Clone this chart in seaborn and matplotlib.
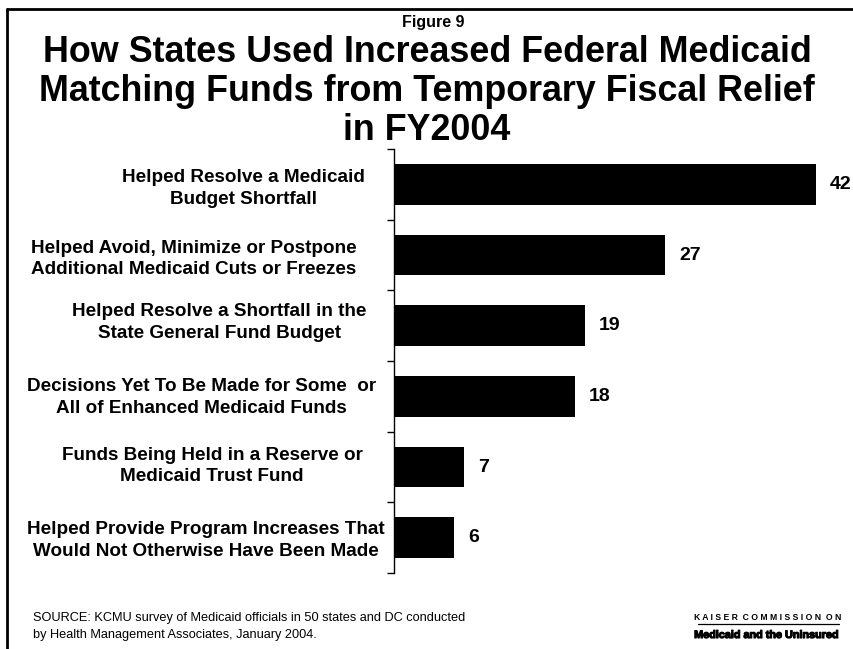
import matplotlib
matplotlib.use("Agg")
import matplotlib.pyplot as plt
from matplotlib.lines import Line2D
import matplotlib.patheffects as pe
import matplotlib.transforms as mtransforms
import seaborn as sns
import pandas as pd
import numpy as np

categories = [
    "Helped Resolve a Medicaid\nBudget Shortfall",
    "Helped Avoid, Minimize or Postpone\nAdditional Medicaid Cuts or Freezes",
    "Helped Resolve a Shortfall in the\nState General Fund Budget",
    "Decisions Yet To Be Made for Some  or\nAll of Enhanced Medicaid Funds",
    "Funds Being Held in a Reserve or\nMedicaid Trust Fund",
    "Helped Provide Program Increases That\nWould Not Otherwise Have Been Made",
]
states = [42, 27, 19, 18, 7, 6]

fig_label = "Figure 9"
title_lines = ["How States Used Increased Federal Medicaid",
               "Matching Funds from Temporary Fiscal Relief",
               "in FY2004"]
source = ("SOURCE: KCMU survey of Medicaid officials in 50 states and DC conducted\n"
          "by Health Management Associates, January 2004.")

# Layout: each category caption is its own centred text block
label_center_px = [243.5, 194, 219.5, 201.5, 212, 205.5]
label_dy_px = [4, 4, -3, 1, -1, 3]

sns.set_theme(style="white")
plt.rcParams["font.family"] = ["Liberation Sans", "DejaVu Sans"]
plt.rcParams["text.color"] = "black"
plt.rcParams["ytick.color"] = "black"

df = pd.DataFrame({"category": categories, "states": states})

W, H = 854, 649
fig = plt.figure(figsize=(W / 100, H / 100), dpi=100)
fig.patch.set_facecolor("white")

ax_top, ax_bot = 149, 573
ax = fig.add_axes([394 / W, 1 - ax_bot / H, (844 - 394) / W, (ax_bot - ax_top) / H])
sns.barplot(data=df, x="states", y="category", orient="h", color="black",
            saturation=1, width=0.58, ax=ax, edgecolor="none")

ax.set_xlim(0, 44.8)
ax.set_ylim(len(categories) - 0.5, -0.5)
ax.set_xlabel("")
ax.set_ylabel("")
ax.set_xticks([])

for s in ["top", "right", "bottom"]:
    ax.spines[s].set_visible(False)
ax.spines["left"].set_color("black")
ax.spines["left"].set_linewidth(1.0)

# Ticks only at the boundaries between categories
ax.set_yticks(np.arange(len(categories)))
ax.set_yticklabels([])
ax.tick_params(axis="y", which="major", length=0)
ax.set_yticks(np.arange(-0.5, len(categories)), minor=True)
ax.tick_params(axis="y", which="minor", left=True, length=5, width=1.0,
               color="black", direction="out")

# Category captions
row_px = (ax_bot - ax_top) / len(categories)
trans = mtransforms.blended_transform_factory(fig.transFigure, ax.transData)
for i, lab in enumerate(categories):
    ax.text(label_center_px[i] / W, i + label_dy_px[i] / row_px, lab,
            transform=trans, ha="center", va="center",
            multialignment="center", fontsize=13.6, fontweight="bold",
            linespacing=1.35, clip_on=False)

ax.bar_label(ax.containers[0], labels=[str(v) for v in states], padding=10,
             fontsize=14, fontweight="bold", color="black")

# Header texts
fig.text(433 / W, 1 - 27 / H, fig_label, ha="center", va="baseline",
         fontsize=11.5, fontweight="bold")
for y_base, line in zip([62, 101, 140], title_lines):
    fig.text(0.5, 1 - y_base / H, line, ha="center", va="baseline",
             fontsize=25.8, fontweight="bold")

# Footer
fig.text(33 / W, 1 - 626.5 / H, source, ha="left", va="center",
         fontsize=9.15, linespacing=1.6)
fig.text(768 / W, 1 - 617 / H, "K A I S E R  C O M M I S S I O N  O N",
         ha="center", va="center", fontsize=6.2, fontweight="bold")
fig.add_artist(Line2D([698 / W, 839 / W], [1 - 623.5 / H, 1 - 623.5 / H],
                      color="black", lw=0.9))
fig.text(767 / W, 1 - 635 / H, "Medicaid and the Uninsured",
         ha="center", va="center", fontsize=7.8, fontweight="heavy",
         path_effects=[pe.withStroke(linewidth=0.8, foreground="black")])

# Frame lines along the top and left edges
fig.add_artist(Line2D([7 / W, 1.0], [1 - 8.5 / H, 1 - 8.5 / H],
                      color="black", lw=2))
fig.add_artist(Line2D([7.5 / W, 7.5 / W], [0, 1 - 8.5 / H],
                      color="black", lw=2))

fig.savefig("out.png", dpi=100, facecolor="white")
